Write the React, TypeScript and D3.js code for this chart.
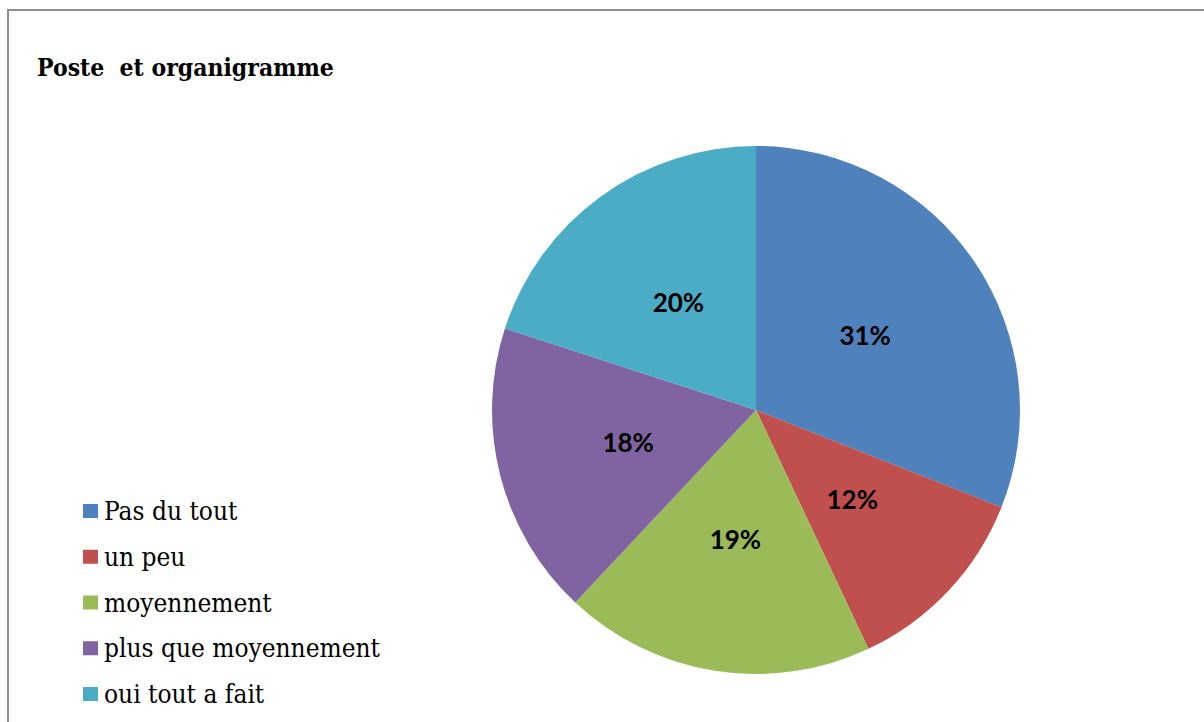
import React from "react";
import * as d3 from "d3";

const categories = ["Pas du tout", "un peu", "moyennement", "plus que moyennement", "oui tout a fait"];
const values = [31, 12, 19, 18, 20];
const colors = ["#4F81BD", "#C0504D", "#9BBB59", "#8064A2", "#4BACC6"];
const title = "Poste  et organigramme";

const serif = "'DejaVu Serif Condensed', 'DejaVu Serif', serif";

export default function App() {
  const W = 1204, H = 722;
  const cx = 756, cy = 410, r = 264;
  const pie = d3.pie<number>().sort(null).value((d) => d);
  const arcs = pie(values);
  const arc = d3.arc<d3.PieArcDatum<number>>().innerRadius(0).outerRadius(r);
  const total = d3.sum(values);
  const legendY = d3.scaleLinear().domain([0, categories.length - 1]).range([511, 694]);

  return (
    <svg width={W} height={H} style={{ position: "absolute", left: 0, top: 0, background: "#fff" }}>
      <rect x={0} y={0} width={W} height={H} fill="#fff" />
      <path d={`M8,${H + 5} L8,10 L${W + 5},10`} fill="none" stroke="#8E8E8E" strokeWidth={2} />
      <text x={37} y={76} fontFamily={serif} fontWeight="bold" fontSize={24.5} fill="#000" style={{ whiteSpace: "pre" }}>
        {title}
      </text>
      <g transform={`translate(${cx},${cy})`}>
        {arcs.map((a, i) => (
          <path key={i} d={arc(a) || ""} fill={colors[i]} />
        ))}
        {arcs.map((a, i) => {
          const [x, y] = arc.centroid(a);
          return (
            <text
              key={"l" + i}
              x={x}
              y={y}
              dy="0.35em"
              textAnchor="middle"
              fontFamily="Lato, sans-serif"
              fontWeight="bold"
              fontSize={26}
              fill="#000"
            >
              {Math.round((a.data / total) * 100) + "%"}
            </text>
          );
        })}
      </g>
      {categories.map((c, i) => (
        <g key={c} transform={`translate(0,${legendY(i)})`}>
          <rect x={83} y={-7} width={15} height={14} fill={colors[i]} />
          <text x={104} y={9} fontFamily={serif} fontSize={26} fill="#000">
            {c}
          </text>
        </g>
      ))}
    </svg>
  );
}
